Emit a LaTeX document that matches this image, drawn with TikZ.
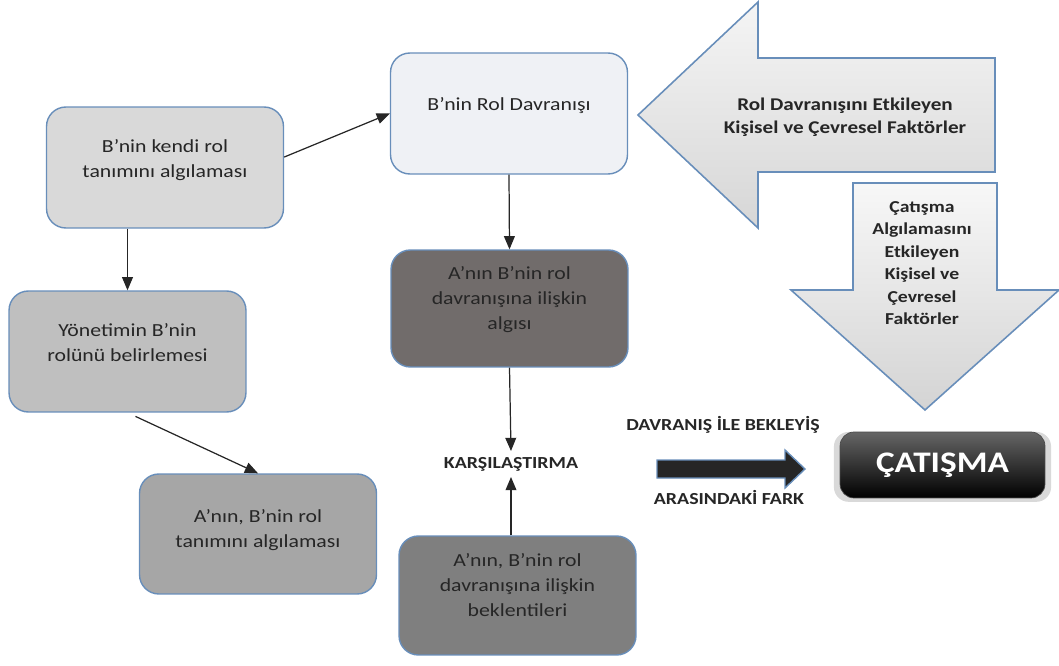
\documentclass[tikz,border=0pt]{standalone}
\usepackage{fontspec}
\setmainfont[FakeStretch=1.18]{Carlito}
\usetikzlibrary{arrows}
\usetikzlibrary{calc}
\usetikzlibrary{shadows}

\definecolor{kenar}{RGB}{104,142,186}
\definecolor{renkA}{RGB}{217,217,217}
\definecolor{renkB}{RGB}{239,241,245}
\definecolor{renkC}{RGB}{191,191,191}
\definecolor{renkD}{RGB}{166,166,166}
\definecolor{renkE}{RGB}{113,108,107}
\definecolor{renkF}{RGB}{127,127,127}

\begin{document}
\begin{tikzpicture}[x=0.02cm,y=-0.02cm,
  kutu/.style={draw=kenar, line width=0.8pt, rounded corners=11pt, minimum width=4.74cm, minimum height=2.42cm, inner sep=0pt},
  yazi/.style={align=center, font=\fontsize{10.5}{14.2}\selectfont, text=black!85},
  kalin/.style={align=center, font=\bfseries\fontsize{10.2}{13.4}\selectfont, text=black!85},
  buyuk/.style={font=\bfseries\fontsize{9.6}{11}\selectfont, text=black!85, inner sep=1pt},
  ok/.style={-triangle 45, line width=0.7pt, black!85}]
\useasboundingbox (0,0) rectangle (1059,666);

% kutular
\node[kutu, fill=renkA] (kendi) at (165,167.5) {};
\node[kutu, fill=renkB] (rol) at (509,113.5) {};
\node[kutu, fill=renkC] (yonetim) at (127.5,351.5) {};
\node[kutu, fill=renkD, minimum height=2.40cm] (Atanim) at (258,534) {};
\node[kutu, fill=renkE, minimum height=2.34cm] (algisi) at (509.5,308.5) {};
\node[kutu, fill=renkF, minimum height=2.38cm] (beklenti) at (517.5,595.5) {};

\node[yazi] (kendiT) at (165,160) {B’nin kendi rol\\tanımını algılaması};
\node[yazi] (rolT) at (509,106) {B’nin Rol Davranışı};
\node[yazi] (yonetimT) at (127.5,343) {Yönetimin B’nin\\rolünü belirlemesi};
\node[yazi] (AtanimT) at (258,530) {A’nın, B’nin rol\\tanımını algılaması};
\node[yazi] (algisiT) at (509.5,300) {A’nın B’nin rol\\davranışına ilişkin\\algısı};
\node[yazi] (beklentiT) at (517.5,585) {A’nın, B’nin rol\\davranışına ilişkin\\beklentileri};

\node[buyuk] (kars) at (511,464) {KARŞILAŞTIRMA};

% oklar
\draw[ok] (kendi.south -| yonetim.north) -- (yonetim.north);
\draw[ok] (kendi.5) -- (rol.west);
\draw[ok, shorten <=5pt] (yonetim.south) -- (Atanim.north);
\draw[ok] (rol.south) -- (algisi.north);
\draw[ok] (algisi.south) -- ($(kars.north)+(0,-4)$);
\draw[ok] (beklenti.north -| kars.south) -- ($(kars.south)+(0,4)$);

% buyuk oklar
\draw[draw=kenar, line width=0.9pt, top color=gray!8, bottom color=gray!32]
  (638,115) -- (758,2) -- (758,58) -- (995,58) -- (995,172) -- (758,172) -- (758,228) -- cycle;
\node[kalin] (etki1) at (845,117) {Rol Davranışını Etkileyen\\Kişisel ve Çevresel Faktörler};

\draw[draw=kenar, line width=0.9pt, top color=gray!6, bottom color=gray!34]
  (853,183) -- (997,183) -- (997,290) -- (1059,290) -- (925,410) -- (791,290) -- (853,290) -- cycle;
\node[kalin, font=\bfseries\fontsize{9.5}{12.8}\selectfont] (etki2) at (922,263) {Çatışma\\Algılamasını\\Etkileyen\\Kişisel ve\\Çevresel\\Faktörler};

% fark
\node[buyuk] (fark1) at (723,425) {DAVRANIŞ İLE BEKLEYİŞ};
\node[buyuk] (fark2) at (729,497) {ARASINDAKİ FARK};
\draw[draw=kenar, line width=0.8pt, fill=black!85]
  (657,460) -- (785,460) -- (785,450) -- (805,469) -- (785,488) -- (785,478) -- (657,478) -- cycle;

\node[draw=black!70, rounded corners=8pt, top color=black!60, bottom color=black,
  minimum width=4.1cm, minimum height=1.32cm, text=white,
  font=\bfseries\fontsize{17}{20}\selectfont,
  drop shadow={shadow xshift=0pt, shadow yshift=-1pt, opacity=0.3, shadow scale=1.06}]
  (catisma) at (942.5,465) {ÇATIŞMA};
\end{tikzpicture}
\end{document}
